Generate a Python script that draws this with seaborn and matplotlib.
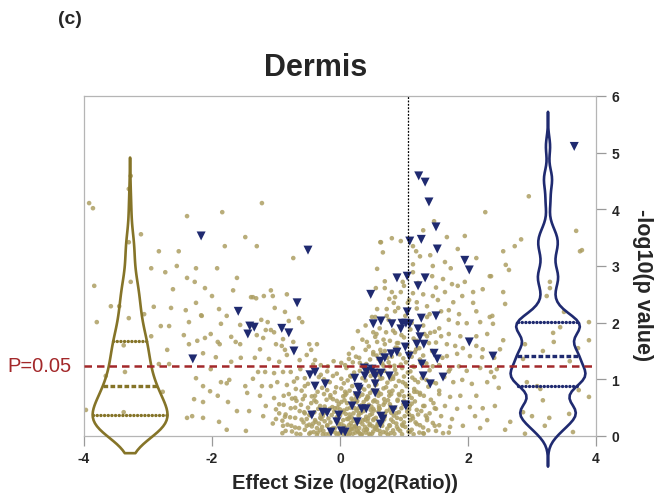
import matplotlib.pyplot as plt
import seaborn as sns
import pandas as pd
from matplotlib.patches import Rectangle

plt.switch_backend('agg')

# Non-significant genes (effect size, -log10 p), read off the picture by region
far_left_pts = [
    (-3.92, 4.11), (-3.86, 4.02), (-3.30, 4.36), (-2.39, 3.88), (-1.84, 3.95), (-1.48, 3.51),
    (-3.11, 3.56), (-1.80, 3.35), (-2.83, 3.26), (-2.52, 3.26), (-2.95, 2.96), (-2.73, 2.89),
    (-2.55, 3.00), (-2.25, 2.96), (-1.92, 2.96), (-2.39, 2.79), (-2.27, 2.72), (-1.61, 2.79),
    (-3.84, 2.65), (-2.61, 2.59), (-2.11, 2.61), (-1.67, 2.57), (-2.00, 2.47), (-1.39, 2.45),
    (-3.58, 2.29), (-3.45, 2.29), (-2.91, 2.28), (-2.64, 2.26), (-2.41, 2.22), (-2.25, 2.35),
    (-1.89, 2.24), (-2.17, 2.13), (-2.16, 2.12), (-1.77, 2.12), (-3.30, 2.08), (-3.06, 2.15),
    (-3.80, 2.01), (-2.80, 1.94), (-2.67, 1.94), (-2.36, 2.01), (-1.86, 1.98), (-1.56, 1.96),
    (-2.95, 1.76), (-2.44, 1.78), (-2.02, 1.80), (-2.11, 1.73), (-2.23, 1.68), (-2.36, 1.62),
    (-1.91, 1.66), (-1.88, 1.62), (-1.70, 1.75), (-1.63, 1.66), (-1.56, 1.62), (-3.38, 1.60),
    (-2.70, 1.52), (-2.14, 1.46), (-1.94, 1.39), (-1.55, 1.38), (-2.83, 1.27), (-2.67, 1.27),
    (-2.02, 1.18), (-1.70, 1.31), (-3.36, 1.13), (-2.25, 1.02), (-2.14, 0.88), (-1.86, 0.95),
    (-1.73, 0.99), (-1.77, 0.93), (-1.48, 0.88), (-2.03, 0.79), (-1.91, 0.71), (-1.45, 0.76),
    (-2.77, 0.78), (-2.28, 0.65), (-2.14, 0.60), (-1.75, 0.60), (-1.61, 0.44), (-1.42, 0.44),
    (-3.97, 0.46), (-2.39, 0.32), (-2.31, 0.35), (-2.14, 0.32), (-1.89, 0.25), (-1.77, 0.11),
    (-1.47, 0.09), (-3.27, 2.72), (-3.66, 1.06), (-3.38, 0.42), (-3.30, 3.42), (-3.27, 4.59),
]

mid_left_pts = [
    (-1.22, 4.11), (-1.30, 3.35), (-0.73, 3.14), (0.63, 3.42), (-1.08, 2.57), (-1.36, 2.45),
    (-1.31, 2.43), (-1.19, 2.47), (-1.05, 2.47), (-0.83, 2.50), (-1.02, 2.26), (-0.86, 2.19),
    (-0.64, 2.08), (-0.59, 2.01), (-0.80, 2.03), (-1.23, 2.05), (-1.13, 2.01), (-1.16, 1.87),
    (-1.08, 1.87), (-1.03, 1.83), (-1.30, 1.78), (-1.20, 1.73), (-0.89, 1.71), (-0.73, 1.66),
    (-1.00, 1.62), (-0.91, 1.59), (-0.48, 1.62), (-0.36, 1.62), (-1.25, 1.53), (-0.86, 1.52),
    (-0.45, 1.52), (-1.33, 1.38), (-1.11, 1.36), (-0.95, 1.31), (-0.83, 1.43), (-0.63, 1.34),
    (-0.39, 1.34), (-0.52, 1.43), (-0.30, 1.25), (-0.19, 1.23), (0.02, 1.29), (0.14, 1.36),
    (0.31, 1.29), (-1.28, 1.13), (-1.17, 1.13), (-1.03, 1.11), (-0.89, 1.13), (-0.77, 1.13),
    (-0.67, 1.02), (-0.55, 1.02), (-0.30, 1.08), (-0.11, 1.06), (0.02, 1.01), (0.16, 1.06),
    (-1.36, 1.01), (-1.22, 0.88), (-1.08, 0.88), (-0.98, 0.95), (-0.83, 0.90), (-0.69, 0.83),
    (-0.55, 0.88), (-0.20, 0.81), (-0.06, 0.86), (0.08, 0.78), (0.45, 0.88), (-1.25, 0.71),
    (-1.03, 0.67), (-0.88, 0.71), (-0.70, 0.67), (-0.58, 0.65), (-0.39, 0.71), (-0.11, 0.65),
    (0.02, 0.60), (0.25, 0.67), (0.42, 0.65), (-1.16, 0.53), (-0.95, 0.56), (-0.77, 0.49),
    (-0.61, 0.55), (-0.31, 0.53), (-0.16, 0.48), (-0.08, 0.49), (0.11, 0.48), (0.52, 0.48),
    (-1.20, 0.35), (-1.00, 0.30), (-0.86, 0.34), (-0.70, 0.32), (-0.48, 0.37), (-0.39, 0.28),
    (-0.31, 0.32), (0.14, 0.32), (0.36, 0.28), (0.52, 0.28), (-0.89, 0.18), (-0.64, 0.14),
    (-0.52, 0.18), (-0.36, 0.14), (-0.20, 0.18), (-0.08, 0.14), (0.06, 0.18), (0.16, 0.11),
    (0.25, 0.16), (0.42, 0.12), (0.58, 0.18), (-0.48, 0.04), (-0.27, 0.03), (-0.05, 0.02),
    (0.14, 0.02), (0.31, 0.04), (0.47, 0.02),
]

core_pts = [
    (-0.35, 0.06), (-0.22, 0.03), (-0.12, 0.08), (0.00, 0.05), (0.06, 0.02), (0.12, 0.07),
    (0.20, 0.04), (0.27, 0.09), (0.34, 0.03), (0.40, 0.06), (0.52, 0.08), (0.63, 0.03),
    (0.72, 0.06), (0.85, 0.04), (0.94, 0.09), (1.15, 0.03),
    (-0.42, 0.22), (-0.28, 0.16), (-0.15, 0.24), (-0.02, 0.20), (0.08, 0.15), (0.17, 0.23),
    (0.24, 0.18), (0.31, 0.25), (0.39, 0.16), (0.47, 0.21), (0.56, 0.15), (0.66, 0.24),
    (0.77, 0.19), (0.88, 0.22), (1.02, 0.16), (1.18, 0.24),
    (-0.55, 0.40), (-0.30, 0.38), (-0.20, 0.45), (-0.05, 0.33), (0.04, 0.42), (0.13, 0.30),
    (0.21, 0.40), (0.29, 0.36), (0.37, 0.44), (0.44, 0.31), (0.50, 0.39), (0.60, 0.43),
    (0.70, 0.34), (0.80, 0.41), (0.95, 0.30), (1.05, 0.43), (1.22, 0.38),
    (-0.45, 0.58), (-0.24, 0.52), (-0.02, 0.56), (0.07, 0.63), (0.16, 0.50), (0.26, 0.60),
    (0.33, 0.54), (0.41, 0.65), (0.49, 0.52), (0.58, 0.60), (0.68, 0.55), (0.75, 0.63),
    (0.86, 0.50), (1.00, 0.62), (1.12, 0.57),
    (-0.35, 0.78), (-0.15, 0.72), (0.02, 0.84), (0.10, 0.75), (0.19, 0.88), (0.30, 0.70),
    (0.38, 0.82), (0.47, 0.76), (0.55, 0.90), (0.64, 0.74), (0.72, 0.86), (0.82, 0.80),
    (0.93, 0.72), (1.04, 0.88), (1.20, 0.78),
    (-0.25, 1.00), (-0.05, 1.10), (0.12, 0.98), (0.22, 1.12), (0.35, 1.02), (0.44, 1.14),
    (0.53, 0.97), (0.60, 1.08), (0.69, 1.15), (0.79, 1.00), (0.88, 1.10), (1.00, 1.05),
    (1.10, 1.14), (1.28, 1.02),
    (-0.10, 1.32), (0.08, 1.25), (0.25, 1.40), (0.36, 1.22), (0.47, 1.35), (0.57, 1.42),
    (0.66, 1.28), (0.74, 1.38), (0.85, 1.24), (0.93, 1.44), (1.03, 1.30), (1.12, 1.40),
    (1.25, 1.35), (1.35, 1.28),
    (0.20, 1.55), (0.35, 1.70), (0.45, 1.58), (0.55, 1.75), (0.63, 1.52), (0.78, 1.68),
    (0.87, 1.56), (0.96, 1.78), (1.05, 1.60), (1.15, 1.72), (1.24, 1.55), (1.32, 1.80),
    (1.50, 1.65),
    (0.40, 1.95), (0.50, 2.10), (0.62, 1.90), (0.76, 2.05), (0.86, 2.20), (0.95, 1.92),
    (1.02, 2.12), (1.12, 2.00), (1.20, 2.25), (1.30, 1.95), (1.40, 2.15), (1.55, 1.90),
    (0.86, 2.45), (1.00, 2.65), (1.08, 2.40), (1.22, 2.70), (1.30, 2.50), (1.50, 2.62),
]

# the packed bottom of the "V" (overlapping dots, estimated row by row)
dense_pts = [
    (-0.90, 0.05), (-0.75, 0.08), (-0.62, 0.03), (-0.41, 0.07), (-0.31, 0.10), (-0.17, 0.04),
    (-0.07, 0.06), (0.03, 0.09), (0.10, 0.03), (0.18, 0.12), (0.24, 0.06), (0.37, 0.10),
    (0.45, 0.04), (0.58, 0.11), (0.68, 0.07), (0.79, 0.05), (0.91, 0.12), (1.07, 0.08),
    (1.24, 0.06), (1.38, 0.10),
    (-0.82, 0.20), (-0.70, 0.15), (-0.57, 0.24), (-0.44, 0.17), (-0.33, 0.22), (-0.24, 0.26),
    (-0.11, 0.14), (-0.03, 0.23), (0.05, 0.28), (0.14, 0.19), (0.21, 0.27), (0.30, 0.14),
    (0.35, 0.21), (0.43, 0.26), (0.51, 0.17), (0.61, 0.20), (0.69, 0.29), (0.74, 0.13),
    (0.83, 0.25), (0.97, 0.20), (1.10, 0.28), (1.30, 0.15), (1.45, 0.23),
    (-0.95, 0.40), (-0.78, 0.33), (-0.63, 0.44), (-0.52, 0.30), (-0.40, 0.42), (-0.27, 0.35),
    (-0.18, 0.31), (-0.09, 0.43), (0.00, 0.36), (0.09, 0.39), (0.18, 0.33), (0.26, 0.45),
    (0.33, 0.41), (0.41, 0.34), (0.48, 0.46), (0.56, 0.32), (0.64, 0.38), (0.73, 0.44),
    (0.84, 0.36), (0.92, 0.42), (1.01, 0.35), (1.14, 0.31), (1.27, 0.44), (1.40, 0.40),
    (-0.88, 0.55), (-0.68, 0.62), (-0.50, 0.50), (-0.37, 0.60), (-0.21, 0.64), (-0.12, 0.51),
    (0.00, 0.47), (0.11, 0.58), (0.20, 0.62), (0.29, 0.49), (0.37, 0.60), (0.45, 0.55),
    (0.54, 0.63), (0.62, 0.48), (0.70, 0.59), (0.79, 0.52), (0.90, 0.64), (0.99, 0.56),
    (1.08, 0.47), (1.17, 0.61), (1.32, 0.53), (1.46, 0.58),
    (-0.80, 0.74), (-0.60, 0.80), (-0.44, 0.70), (-0.28, 0.85), (-0.08, 0.77), (0.05, 0.70),
    (0.15, 0.80), (0.24, 0.74), (0.33, 0.86), (0.43, 0.70), (0.51, 0.81), (0.60, 0.77),
    (0.68, 0.84), (0.77, 0.71), (0.87, 0.88), (0.97, 0.79), (1.08, 0.72), (1.16, 0.83),
    (1.25, 0.76), (1.38, 0.87), (1.55, 0.80),
    (-0.72, 0.96), (-0.50, 0.92), (-0.33, 1.04), (-0.16, 0.95), (0.06, 0.93), (0.17, 1.05),
    (0.28, 0.90), (0.40, 0.98), (0.48, 1.06), (0.57, 0.91), (0.66, 1.02), (0.74, 0.94),
    (0.83, 1.05), (0.92, 0.97), (1.02, 0.92), (1.13, 1.03), (1.22, 0.95), (1.35, 0.99),
    (1.50, 0.93), (1.63, 1.04),
    (-0.62, 1.18), (-0.42, 1.26), (-0.20, 1.14), (0.10, 1.20), (0.20, 1.30), (0.31, 1.15),
    (0.41, 1.27), (0.50, 1.22), (0.59, 1.13), (0.68, 1.24), (0.76, 1.30), (0.86, 1.17),
    (0.95, 1.26), (1.06, 1.12), (1.16, 1.22), (1.26, 1.29), (1.40, 1.16), (1.55, 1.25),
    (1.70, 1.14),
    (0.14, 1.45), (0.30, 1.38), (0.40, 1.52), (0.52, 1.44), (0.60, 1.36), (0.70, 1.50),
    (0.81, 1.40), (0.90, 1.55), (0.99, 1.37), (1.10, 1.47), (1.19, 1.53), (1.30, 1.42),
    (1.44, 1.50), (1.60, 1.38),
    (0.28, 1.85), (0.42, 1.66), (0.57, 1.80), (0.68, 1.70), (0.83, 1.86), (0.91, 1.64),
    (1.00, 1.74), (1.10, 1.88), (1.20, 1.68), (1.36, 1.76), (1.48, 1.84),
    (-0.85, 0.09), (-0.68, 0.04), (-0.55, 0.11), (-0.46, 0.06), (-0.36, 0.02), (-0.26, 0.09),
    (-0.14, 0.12), (-0.02, 0.04), (0.07, 0.10), (0.15, 0.05), (0.22, 0.13), (0.29, 0.07),
    (0.33, 0.02), (0.42, 0.11), (0.50, 0.04), (0.55, 0.13), (0.62, 0.09), (0.75, 0.02),
    (0.83, 0.10), (0.97, 0.03), (1.12, 0.11), (1.31, 0.04), (1.50, 0.09), (1.70, 0.06),
    (-1.05, 0.22), (-0.90, 0.27), (-0.76, 0.18), (-0.60, 0.29), (-0.48, 0.20), (-0.38, 0.25),
    (-0.29, 0.30), (-0.20, 0.19), (-0.06, 0.27), (0.02, 0.21), (0.11, 0.30), (0.19, 0.17),
    (0.27, 0.24), (0.39, 0.29), (0.46, 0.19), (0.53, 0.30), (0.59, 0.22), (0.66, 0.18),
    (0.80, 0.29), (0.89, 0.16), (1.00, 0.24), (1.20, 0.21), (1.36, 0.28), (1.55, 0.19),
    (-1.00, 0.47), (-0.85, 0.38), (-0.70, 0.50), (-0.56, 0.42), (-0.45, 0.36), (-0.34, 0.48),
    (-0.24, 0.41), (-0.13, 0.37), (-0.04, 0.50), (0.06, 0.45), (0.15, 0.38), (0.23, 0.49),
    (0.30, 0.40), (0.38, 0.50), (0.47, 0.37), (0.53, 0.45), (0.61, 0.49), (0.70, 0.39),
    (0.78, 0.47), (0.88, 0.40), (0.96, 0.49), (1.08, 0.38), (1.20, 0.46), (1.34, 0.36),
    (1.50, 0.48),
    (-0.75, 0.66), (-0.55, 0.71), (-0.40, 0.63), (-0.25, 0.74), (-0.15, 0.68), (-0.05, 0.62),
    (0.08, 0.72), (0.18, 0.66), (0.27, 0.62), (0.35, 0.73), (0.44, 0.68), (0.52, 0.61),
    (0.60, 0.71), (0.69, 0.65), (0.80, 0.74), (0.90, 0.62), (1.00, 0.70), (1.12, 0.67),
    (1.25, 0.73), (1.42, 0.64),
]

mid_right_pts = [
    (2.27, 3.95), (1.47, 3.79), (0.64, 3.42), (0.81, 3.49), (0.95, 3.44), (1.30, 3.63),
    (1.67, 3.51), (1.95, 3.53), (1.14, 3.35), (1.19, 3.26), (0.67, 3.24), (1.25, 3.17),
    (1.41, 3.19), (1.84, 3.30), (2.13, 3.14), (1.64, 3.07), (1.14, 3.03), (1.45, 3.00),
    (1.73, 2.96), (2.34, 2.82), (0.58, 2.95), (1.14, 2.89), (0.98, 2.72), (1.44, 2.82),
    (1.61, 2.77), (0.70, 2.73), (1.75, 2.68), (1.84, 2.65), (1.95, 2.72), (0.56, 2.61),
    (0.70, 2.61), (0.81, 2.54), (0.95, 2.54), (1.14, 2.52), (1.45, 2.47), (1.64, 2.54),
    (1.91, 2.47), (2.08, 2.54), (2.23, 2.59), (0.77, 2.42), (0.84, 2.35), (1.06, 2.35),
    (1.20, 2.36), (1.36, 2.29), (1.53, 2.40), (1.77, 2.36), (2.08, 2.35), (0.58, 2.24),
    (0.73, 2.24), (0.91, 2.26), (1.58, 2.20), (1.70, 2.22), (1.86, 2.15), (2.13, 2.20),
    (2.34, 2.10), (0.55, 2.10), (0.73, 2.12), (1.36, 2.10), (1.70, 2.05), (1.84, 1.99),
    (1.98, 1.99), (2.19, 2.01), (0.52, 1.83), (0.72, 1.83), (0.86, 1.82), (1.41, 1.82),
    (1.58, 1.76), (1.70, 1.80), (1.88, 1.76), (2.13, 1.76), (2.30, 1.80), (0.58, 1.66),
    (0.70, 1.62), (0.89, 1.64), (1.39, 1.64), (1.67, 1.62), (1.80, 1.59), (1.92, 1.55),
    (2.13, 1.59), (2.23, 1.53), (0.52, 1.48), (0.64, 1.46), (1.17, 1.48), (1.67, 1.41),
    (1.83, 1.45), (2.03, 1.41), (2.22, 1.39), (0.78, 1.23), (0.97, 1.20), (1.14, 1.23),
    (1.45, 1.23), (1.72, 1.18), (1.86, 1.23), (1.98, 1.15), (2.19, 1.20), (2.36, 1.13),
    (0.63, 1.01), (0.83, 1.01), (0.98, 0.95), (1.17, 0.99), (1.45, 0.95), (1.77, 0.95),
    (1.91, 0.99), (2.06, 0.92), (2.30, 0.95), (0.58, 0.79), (0.77, 0.78), (0.92, 0.74),
    (1.16, 0.78), (1.31, 0.71), (1.55, 0.74), (1.72, 0.69), (1.88, 0.71), (2.13, 0.71),
    (0.61, 0.53), (0.78, 0.56), (1.09, 0.53), (1.30, 0.53), (1.48, 0.49), (1.64, 0.53),
    (1.83, 0.48), (2.03, 0.51), (2.23, 0.49), (0.67, 0.35), (0.89, 0.32), (1.13, 0.35),
    (1.36, 0.32), (1.58, 0.35), (1.75, 0.30), (2.11, 0.35), (2.30, 0.28), (0.78, 0.18),
    (0.98, 0.18), (1.25, 0.19), (1.48, 0.18), (1.72, 0.16), (1.92, 0.18), (2.19, 0.14),
    (1.09, 0.07), (1.30, 0.05), (1.61, 0.05),
]

far_right_pts = [
    (2.95, 4.23), (3.69, 3.62), (3.75, 3.26), (3.78, 3.28), (2.83, 3.47), (2.73, 3.35),
    (2.55, 3.26), (2.59, 3.02), (2.64, 2.93), (2.36, 2.82), (3.28, 2.72), (3.28, 2.61),
    (2.55, 2.54), (3.23, 2.47), (2.58, 2.33), (2.38, 2.12), (2.39, 1.98), (3.50, 2.19),
    (3.89, 2.01), (3.33, 1.82), (3.44, 1.92), (2.55, 1.69), (2.89, 1.62), (2.50, 1.53),
    (3.17, 1.50), (3.89, 1.69), (3.72, 1.55), (2.41, 1.38), (2.86, 1.36), (3.59, 1.32),
    (2.45, 1.18), (2.41, 1.04), (2.48, 0.85), (2.92, 0.95), (3.08, 0.88), (3.13, 0.83),
    (3.73, 0.81), (3.89, 0.69), (2.42, 0.53), (2.86, 0.42), (3.00, 0.35), (3.27, 0.32),
    (3.58, 0.39), (2.66, 0.25), (3.20, 0.18), (2.89, 0.04), (2.58, 0.11), (3.64, 0.07),
    (3.34, 1.66), (3.17, 0.63),
]

# Significant genes (blue triangles)
sig_pts = [
    (-2.30, 1.36), (-2.17, 3.53), (-1.59, 2.20), (-1.41, 1.94), (-1.34, 1.92), (-1.44, 1.80),
    (-0.91, 1.90), (-0.80, 1.82), (-0.72, 1.50), (-0.67, 2.35), (-0.50, 3.28), (-0.47, 1.08),
    (-0.39, 1.13), (-0.39, 0.88), (-0.23, 0.92), (-0.44, 0.37), (-0.27, 0.42), (-0.20, 0.41),
    (-0.02, 0.37), (-0.05, 0.25), (-0.14, 0.07), (0.02, 0.09), (0.08, 0.07), (0.19, 0.53),
    (0.27, 0.25), (0.28, 0.86), (0.23, 1.02), (0.38, 1.20), (0.42, 1.15), (0.39, 1.06),
    (0.48, 2.50), (0.52, 1.11), (0.55, 1.06), (0.64, 1.11), (0.77, 1.06), (0.55, 0.92),
    (0.55, 0.76), (0.34, 0.48), (0.41, 0.48), (0.63, 0.21), (0.64, 0.35), (0.83, 0.46),
    (1.02, 0.55), (0.63, 1.32), (0.70, 1.38), (0.80, 1.45), (0.89, 1.48), (1.02, 1.57),
    (1.08, 1.41), (1.28, 1.27), (1.30, 1.06), (1.41, 0.92), (1.61, 1.04), (1.47, 1.46),
    (1.52, 1.36), (1.20, 1.62), (1.31, 1.62), (1.25, 1.75), (1.22, 1.89), (0.95, 1.89),
    (0.52, 1.98), (0.64, 2.03), (0.81, 1.98), (0.97, 1.99), (1.03, 1.99), (1.09, 1.98),
    (1.05, 2.19), (1.27, 2.08), (1.50, 2.12), (2.02, 1.66), (2.39, 1.41), (0.89, 2.79),
    (1.05, 2.82), (1.33, 2.79), (1.22, 2.65), (1.09, 3.44), (1.27, 3.47), (1.52, 3.30),
    (1.95, 3.10), (2.02, 2.93), (1.50, 3.69), (1.39, 4.13), (1.33, 4.48), (1.23, 4.59),
    (3.66, 5.11), (0.30, 0.83), (0.27, 0.71), (0.50, 1.18), (1.03, 0.53), (0.67, 0.30),
]

x_ticks = [-4, -2, 0, 2, 4]
y_ticks = [0, 1, 2, 3, 4, 5, 6]
p_line = 1.23
fold_line = 1.07
violin_pos = [-3.28, 3.25]

OLIVE_PT = '#ad9f63'
OLIVE_LINE = '#857428'
NAVY = '#1f2a70'
RED = '#a3282a'

all_olive = far_left_pts + mid_left_pts + core_pts + dense_pts + mid_right_pts + far_right_pts
df_ns = pd.DataFrame(all_olive, columns=['effect', 'logp'])
df_sig = pd.DataFrame(sig_pts, columns=['effect', 'logp'])

sns.set_style('white')
plt.rcParams['font.family'] = ['Liberation Sans', 'DejaVu Sans']

fig = plt.figure(figsize=(6.61, 5.02), dpi=100)
ax = fig.add_axes([84 / 661, 65 / 502, 512 / 661, 340 / 502])

sns.scatterplot(data=df_ns, x='effect', y='logp', color=OLIVE_PT, s=11,
                alpha=0.85, edgecolor='none', ax=ax, zorder=2)
sns.scatterplot(data=df_sig, x='effect', y='logp', color=NAVY, marker='v', s=42,
                edgecolor='none', ax=ax, zorder=3)

# Violins of the two p-value distributions, allowed to hang below the axis
clip_rect = Rectangle((0, -0.25), 1, 1.25, transform=ax.transAxes)
for pos, vals, col, bw, cut in [(violin_pos[0], df_ns['logp'], OLIVE_LINE, 1.0, 1.3),
                                (violin_pos[1], df_sig['logp'], NAVY, 0.38, 3.6)]:
    n_coll, n_lines = len(ax.collections), len(ax.lines)
    vdf = pd.DataFrame({'pos': pos, 'val': vals})
    sns.violinplot(data=vdf, x='pos', y='val', orient='x', native_scale=True,
                   fill=False, color=col, linewidth=1.9, width=1.17,
                   bw_adjust=bw, cut=cut, inner='quart',
                   inner_kws=dict(linewidth=2.4), ax=ax)
    for art in ax.collections[n_coll:] + ax.lines[n_lines:]:
        art.set_clip_path(clip_rect)
        art.set_zorder(4)
    # quartiles dotted, median dashed
    for i, ln in enumerate(ax.lines[n_lines:]):
        if i == 1:
            ln.set_dash_capstyle('butt')
            ln.set_dashes((1.4, 0.7))
        else:
            ln.set_dash_capstyle('round')
            ln.set_dashes((0.05, 1.05))

ax.axhline(p_line, color=RED, ls=(0, (3, 2)), lw=1.8, zorder=5)
ax.axvline(fold_line, color='black', ls=(0, (1.5, 1.2)), lw=0.9, zorder=5)

ax.set_xlim(-4, 4)
ax.set_ylim(0, 6)
ax.set_xticks(x_ticks)
ax.set_xticklabels([str(t) for t in x_ticks], fontweight='bold', fontsize=10)
ax.yaxis.tick_right()
ax.set_yticks(y_ticks)
ax.set_yticklabels([str(t) for t in y_ticks], fontweight='bold', fontsize=10)
ax.tick_params(axis='both', which='major', direction='out', length=7,
               width=0.9, color='#9a9a9a', pad=4)
ax.tick_params(axis='x', bottom=True)
ax.tick_params(axis='y', right=True, left=False)
ax.set_xlabel('')
ax.set_ylabel('')
for sp in ax.spines.values():
    sp.set_color('#b5b5b5')
    sp.set_linewidth(0.9)

fig.text(70 / 661, 1 - 20 / 502, '(c)', ha='center', va='center', fontsize=14, fontweight='bold')
fig.text(316 / 661, 1 - 68 / 502, 'Dermis', ha='center', va='center', fontsize=22, fontweight='bold')
fig.text(345 / 661, 1 - 484 / 502, 'Effect Size (log2(Ratio))', ha='center', va='center',
         fontsize=14.5, fontweight='bold')
fig.text(643 / 661, 1 - 285 / 502, '-log10(p value)', ha='center', va='center',
         rotation=270, fontsize=15.5, fontweight='bold')
fig.text(7 / 661, 1 - 367 / 502, 'P=0.05', ha='left', va='center', fontsize=14.5, color=RED)

fig.savefig('out.png', dpi=100)
plt.close(fig)
